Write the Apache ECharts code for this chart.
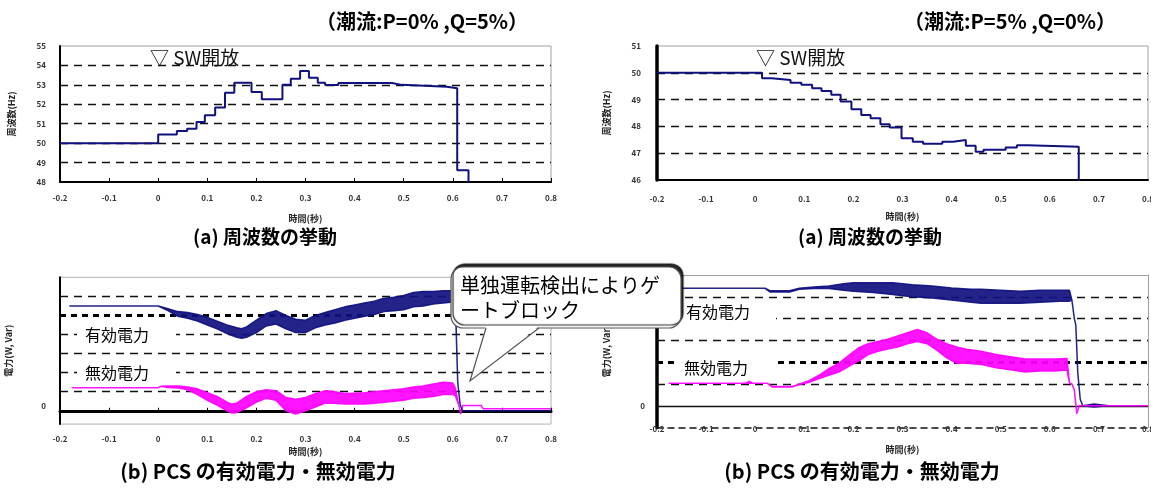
<!DOCTYPE html>
<html>
<head>
<meta charset="utf-8">
<script src="https://cdn.jsdelivr.net/npm/echarts@6/dist/echarts.min.js"></script>
<style>
  html, body { margin: 0; padding: 0; background: #fff; }
  #c { width: 1151px; height: 488px; }
</style>
</head>
<body>
<div id="c"></div>
<script>
// ---- time axis (s) ----
const timeMin = -0.2, timeMax = 0.8, timeStep = 0.1;

// ---- (a) frequency, case P=0%, Q=5%  (step data: value holds until next time) ----
const freqA_t = [-0.2, 0.0, 0.038, 0.059, 0.078, 0.095, 0.116, 0.136, 0.155, 0.19, 0.211, 0.253, 0.27, 0.289, 0.307, 0.325, 0.34, 0.367, 0.476, 0.496, 0.588, 0.609, 0.632, 0.65];
const freqA_f = [50.0, 50.45, 50.63, 50.74, 51.09, 51.43, 51.83, 52.6, 53.11, 52.63, 52.26, 53.01, 53.32, 53.71, 53.37, 53.11, 52.99, 53.1, 53.0, 52.9, 52.82, 48.6, 47.5, 47.5];
const freqA_ticks = [48, 55];

// ---- (a) frequency, case P=5%, Q=0% ----
const freqB_t = [-0.2, 0.014, 0.033, 0.072, 0.094, 0.116, 0.135, 0.155, 0.174, 0.196, 0.216, 0.235, 0.255, 0.274, 0.298, 0.321, 0.342, 0.381, 0.403, 0.429, 0.449, 0.465, 0.51, 0.533, 0.554, 0.659, 0.68];
const freqB_f = [50.0, 49.8, 49.73, 49.63, 49.55, 49.42, 49.32, 49.18, 48.93, 48.64, 48.43, 48.3, 48.08, 47.96, 47.56, 47.43, 47.35, 47.43, 47.49, 47.28, 47.05, 47.13, 47.21, 47.3, 47.24, 45.5, 45.5];
const freqB_ticks = [46, 51];

// ---- (b) PCS power, case P=0%, Q=5%  (upper / lower envelope of the ripple, grid units) ----
const pA_t  = [-0.18, 0.0, 0.02, 0.04, 0.06, 0.08, 0.10, 0.12, 0.14, 0.16, 0.17, 0.18, 0.20, 0.22, 0.24, 0.26, 0.28, 0.30, 0.32, 0.34, 0.36, 0.38, 0.40, 0.42, 0.44, 0.46, 0.48, 0.50, 0.52, 0.54, 0.56, 0.58, 0.60, 0.605, 0.61, 0.615, 0.62, 0.8];
const pA_hi = [5.49, 5.49, 5.35, 5.2, 5.15, 5.05, 4.9, 4.7, 4.5, 4.35, 4.3, 4.4, 4.75, 5.1, 5.25, 5.0, 4.8, 4.75, 5.0, 5.15, 5.3, 5.45, 5.55, 5.65, 5.75, 5.9, 5.95, 6.05, 6.2, 6.25, 6.25, 6.3, 6.3, 6.0, 1.5, 0.3, 0, 0];
const pA_lo = [5.49, 5.49, 5.25, 4.95, 4.85, 4.7, 4.5, 4.3, 4.05, 3.85, 3.8, 3.85, 4.1, 4.45, 4.55, 4.3, 4.1, 4.1, 4.35, 4.5, 4.6, 4.75, 4.85, 4.95, 5.05, 5.2, 5.25, 5.3, 5.45, 5.5, 5.6, 5.65, 5.7, 5.8, 1.5, 0.3, 0, 0];

const qA_t  = [-0.175, 0.0, 0.005, 0.02, 0.04, 0.06, 0.08, 0.10, 0.12, 0.14, 0.15, 0.16, 0.18, 0.20, 0.22, 0.24, 0.26, 0.28, 0.30, 0.32, 0.34, 0.36, 0.38, 0.40, 0.42, 0.44, 0.46, 0.48, 0.50, 0.52, 0.54, 0.56, 0.58, 0.60, 0.605, 0.612, 0.616, 0.62, 0.658, 0.662, 0.8];
const qA_hi = [1.21, 1.21, 1.28, 1.3, 1.3, 1.25, 1.15, 0.95, 0.75, 0.45, 0.35, 0.4, 0.75, 1.0, 1.1, 1.05, 0.7, 0.6, 0.7, 0.9, 1.05, 1.0, 0.9, 0.92, 0.95, 1.0, 1.05, 1.1, 1.15, 1.25, 1.3, 1.4, 1.5, 1.45, 1.2, 0.3, -0.15, 0.28, 0.28, 0.1, 0.1];
const qA_lo = [1.21, 1.21, 1.28, 1.22, 1.2, 1.1, 0.85, 0.55, 0.3, 0.0, -0.12, -0.1, 0.15, 0.45, 0.65, 0.55, 0.0, -0.17, 0.0, 0.2, 0.4, 0.4, 0.35, 0.35, 0.35, 0.4, 0.45, 0.5, 0.55, 0.65, 0.7, 0.75, 0.85, 0.85, 0.8, 0.3, -0.15, 0.28, 0.28, 0.1, 0.1];
const gridA_lines = [1, 2, 3, 4, 5, 6];
const gridA_bold = 5;

// ---- (b) PCS power, case P=5%, Q=0% ----
const pB_t  = [-0.2, 0.02, 0.03, 0.07, 0.09, 0.12, 0.15, 0.18, 0.20, 0.24, 0.28, 0.30, 0.32, 0.36, 0.40, 0.44, 0.46, 0.50, 0.54, 0.58, 0.62, 0.64, 0.645, 0.65, 0.653, 0.657, 0.662, 0.667, 0.69, 0.72];
const pB_hi = [5.39, 5.39, 5.28, 5.28, 5.39, 5.45, 5.5, 5.6, 5.65, 5.65, 5.65, 5.6, 5.55, 5.5, 5.4, 5.35, 5.35, 5.3, 5.25, 5.3, 5.3, 5.3, 4.85, 4.0, 3.7, 1.5, 0.3, 0.0, 0.08, 0.0];
const pB_lo = [5.39, 5.39, 5.22, 5.22, 5.35, 5.38, 5.38, 5.3, 5.25, 5.2, 5.1, 5.05, 5.0, 4.95, 4.85, 4.75, 4.7, 4.7, 4.7, 4.75, 4.8, 4.8, 4.85, 4.0, 3.7, 1.5, 0.3, 0.0, -0.05, 0.0];

const qB_t  = [-0.175, -0.02, -0.012, -0.004, 0.025, 0.035, 0.075, 0.09, 0.11, 0.13, 0.15, 0.17, 0.19, 0.21, 0.23, 0.25, 0.27, 0.29, 0.31, 0.33, 0.35, 0.37, 0.39, 0.41, 0.43, 0.46, 0.49, 0.52, 0.55, 0.58, 0.61, 0.635, 0.64, 0.645, 0.65, 0.655, 0.66, 0.8];
const qB_hi = [1.03, 1.03, 1.12, 1.03, 1.03, 0.88, 0.88, 1.0, 1.15, 1.4, 1.7, 1.95, 2.3, 2.65, 2.85, 2.95, 3.05, 3.2, 3.35, 3.5, 3.35, 3.05, 2.85, 2.7, 2.6, 2.5, 2.35, 2.25, 2.15, 2.15, 2.15, 2.17, 1.05, 1.0, 0.72, -0.35, 0, 0];
const qB_lo = [1.03, 1.03, 1.03, 1.03, 1.03, 0.86, 0.86, 0.98, 1.08, 1.25, 1.4, 1.55, 1.8, 2.05, 2.35, 2.5, 2.6, 2.7, 2.85, 2.95, 2.85, 2.55, 2.2, 1.95, 1.95, 1.9, 1.75, 1.65, 1.55, 1.6, 1.6, 1.64, 1.05, 1.0, 0.72, -0.35, 0, 0];
const gridB_lines = [1, 2, 3, 4, 5];
const gridB_bold = 2;

// ---- texts ----
const titleA = '（潮流:P=0% ,Q=5%）';
const titleB = '（潮流:P=5% ,Q=0%）';
const capFreq = '(a) 周波数の挙動';
const capPower = '(b) PCS の有効電力・無効電力';
const eventLabel = '▽ SW開放';
const nameP = '有効電力', nameQ = '無効電力';
const calloutLines = ['単独運転検出によりゲ', 'ートブロック'];

const NAVY = '#10107f', MAGENTA = '#ff00ff';
const JP = '"Noto Sans CJK JP", "Noto Sans", sans-serif';

const zip = (t, v) => t.map((x, i) => [x, v[i]]);

// ripple band: closed outline along the upper envelope and back along the lower one
function band(t, hi, lo, color, xi, yi, z) {
  return {
    type: 'custom', xAxisIndex: xi, yAxisIndex: yi, z: z, silent: true, clip: true,
    animation: false, data: [[t[0], lo[0]]],
    renderItem: function (params, api) {
      const up = t.map((x, i) => api.coord([x, hi[i]]));
      const dn = t.map((x, i) => api.coord([x, lo[i]])).reverse();
      return {
        type: 'polygon',
        shape: { points: up.concat(dn) },
        style: { fill: color, opacity: 0.92, stroke: color, lineWidth: 1.5, lineJoin: 'round' }
      };
    }
  };
}

function gridMarks(values, bold, withZero) {
  const data = values.map(v => ({
    yAxis: v,
    lineStyle: v === bold
      ? { color: '#000', width: 3, type: [6, 5] }
      : { color: '#111', width: 1.4, type: [8, 6] }
  }));
  if (withZero) data.push({ yAxis: 0, lineStyle: { color: '#111', width: 1.4, type: 'solid' } });
  return { silent: true, symbol: 'none', label: { show: false }, animation: false, z: 1, data: data };
}

const tickLabel = { fontSize: 8, fontWeight: 'bold', color: '#333', fontFamily: JP };
const axisName = { fontSize: 9, fontWeight: 'bold', color: '#222', fontFamily: JP };
const dashGrid = { show: true, showMinLine: false, showMaxLine: false, lineStyle: { color: '#111', width: 1.4, type: [8, 6] } };

function xAxisBase(gi, extra) {
  return Object.assign({
    type: 'value', gridIndex: gi, min: timeMin, max: timeMax, interval: timeStep,
    name: '時間(秒)', nameLocation: 'middle', nameTextStyle: axisName, nameMoveOverlap: false,
    axisLine: { onZero: false, lineStyle: { color: '#000', width: 2 } },
    axisTick: { show: false },
    axisLabel: Object.assign({}, tickLabel),
    splitLine: { show: false }
  }, extra);
}

const zeroOnly = v => (Math.abs(v) < 1e-6 ? '0' : '');

const option = {
  backgroundColor: '#fff',
  animation: false,
  textStyle: { fontFamily: JP },
  grid: [
    { left: 60, top: 46, width: 491, height: 136, show: true, borderColor: '#a0a0a0', borderWidth: 1, containLabel: false, outerBoundsMode: 'none' },
    { left: 657, top: 46, width: 491, height: 134, show: true, borderColor: '#a0a0a0', borderWidth: 1, containLabel: false, outerBoundsMode: 'none' },
    { left: 60, top: 277.3, width: 491, height: 146.8, show: true, borderColor: '#b0b0b0', borderWidth: 1, containLabel: false, outerBoundsMode: 'none' },
    { left: 657, top: 275, width: 491, height: 152.6, show: false, containLabel: false, outerBoundsMode: 'none' }
  ],
  xAxis: [
    xAxisBase(0, { nameGap: 32, axisTick: { show: true, inside: true, length: 4, lineStyle: { color: '#000', width: 1 } }, axisLabel: Object.assign({}, tickLabel, { margin: 12 }) }),
    xAxisBase(1, { nameGap: 32, axisLabel: Object.assign({}, tickLabel, { margin: 15 }) }),
    xAxisBase(2, {
      nameGap: 23,
      axisLine: { onZero: true, lineStyle: { color: '#000', width: 3 } },
      axisTick: { show: true, inside: true, length: 3, lineStyle: { color: '#000', width: 1 } },
      axisLabel: Object.assign({}, tickLabel, { margin: 11 })
    }),
    xAxisBase(3, {
      nameGap: 17,
      axisLine: { onZero: false, lineStyle: { color: '#111', width: 1.5, type: [6, 5] } },
      axisLabel: Object.assign({}, tickLabel, { margin: -3 })
    }),
    { type: 'value', gridIndex: 3, position: 'top', min: timeMin, max: timeMax, interval: timeStep,
      axisLine: { onZero: false, lineStyle: { color: '#a0a0a0', width: 1 } },
      axisTick: { show: false }, axisLabel: { show: false }, splitLine: { show: false } }
  ],
  yAxis: [
    { type: 'value', gridIndex: 0, min: freqA_ticks[0], max: freqA_ticks[1], interval: 1,
      name: '周波数(Hz)', nameLocation: 'middle', nameRotate: 90, nameGap: 44, nameTextStyle: axisName, nameMoveOverlap: false,
      axisLine: { show: true, onZero: false, lineStyle: { color: '#000', width: 2 } }, axisTick: { show: false },
      axisLabel: Object.assign({}, tickLabel, { margin: 14 }), splitLine: dashGrid },
    { type: 'value', gridIndex: 1, min: freqB_ticks[0], max: freqB_ticks[1], interval: 1,
      name: '周波数(Hz)', nameLocation: 'middle', nameRotate: 90, nameGap: 46, nameTextStyle: axisName, nameMoveOverlap: false,
      axisLine: { show: true, onZero: false, lineStyle: { color: '#000', width: 3.5 } }, axisTick: { show: false },
      axisLabel: Object.assign({}, tickLabel, { margin: 16 }), splitLine: dashGrid },
    { type: 'value', gridIndex: 2, min: -0.7, max: 7, interval: 0.7,
      name: '電力(W, Var)', nameLocation: 'middle', nameRotate: 90, nameGap: 47, nameTextStyle: axisName, nameMoveOverlap: false,
      axisLine: { show: true, onZero: false, lineStyle: { color: '#000', width: 2 } }, axisTick: { show: false },
      axisLabel: Object.assign({}, tickLabel, { margin: 14, formatter: zeroOnly, verticalAlign: 'bottom', padding: [0, 0, 1, 0] }),
      splitLine: { show: false } },
    { type: 'value', gridIndex: 3, position: 'left', min: -1, max: 6, interval: 1,
      name: '電力(W, Var)', nameLocation: 'middle', nameRotate: 90, nameGap: 46, nameTextStyle: axisName, nameMoveOverlap: false,
      axisLine: { show: true, onZero: false, lineStyle: { color: '#000', width: 3.5 } }, axisTick: { show: false },
      axisLabel: Object.assign({}, tickLabel, { margin: 12, formatter: zeroOnly }),
      splitLine: { show: false } },
    { type: 'value', gridIndex: 3, position: 'right', min: -1, max: 6, interval: 1,
      axisLine: { show: true, onZero: false, lineStyle: { color: '#a0a0a0', width: 1 } },
      axisTick: { show: false }, axisLabel: { show: false }, splitLine: { show: false } }
  ],
  series: [
    { type: 'line', xAxisIndex: 0, yAxisIndex: 0, step: 'end', symbol: 'none', silent: true, z: 3,
      data: zip(freqA_t, freqA_f), lineStyle: { color: NAVY, width: 2 } },
    { type: 'line', xAxisIndex: 1, yAxisIndex: 1, step: 'end', symbol: 'none', silent: true, z: 3,
      data: zip(freqB_t, freqB_f), lineStyle: { color: NAVY, width: 2 } },
    // grid lines of the power panels
    { type: 'line', xAxisIndex: 2, yAxisIndex: 2, data: [], markLine: gridMarks(gridA_lines, gridA_bold, false) },
    { type: 'line', xAxisIndex: 3, yAxisIndex: 3, data: [], markLine: gridMarks(gridB_lines, gridB_bold, true) },
    band(qA_t, qA_hi, qA_lo, MAGENTA, 2, 2, 3),
    band(pA_t, pA_hi, pA_lo, NAVY, 2, 2, 4),
    band(pB_t, pB_hi, pB_lo, NAVY, 3, 3, 3),
    band(qB_t, qB_hi, qB_lo, MAGENTA, 3, 3, 4)
  ],
  graphic: { elements: [
    { type: 'text', style: { text: titleA, x: 422, y: 21, align: 'center', verticalAlign: 'middle', font: 'bold 20px ' + JP, fill: '#000' } },
    { type: 'text', style: { text: titleB, x: 1010, y: 21, align: 'center', verticalAlign: 'middle', font: 'bold 20px ' + JP, fill: '#000' } },
    { type: 'text', style: { text: capFreq, x: 265, y: 237, align: 'center', verticalAlign: 'middle', font: 'bold 19px ' + JP, fill: '#000' } },
    { type: 'text', style: { text: capFreq, x: 870, y: 237, align: 'center', verticalAlign: 'middle', font: 'bold 19px ' + JP, fill: '#000' } },
    { type: 'text', style: { text: capPower, x: 258, y: 471, align: 'center', verticalAlign: 'middle', font: 'bold 20px ' + JP, fill: '#000' } },
    { type: 'text', style: { text: capPower, x: 862, y: 471, align: 'center', verticalAlign: 'middle', font: 'bold 20px ' + JP, fill: '#000' } },
    { type: 'text', style: { text: eventLabel, x: 150, y: 58, verticalAlign: 'middle', font: '19px ' + JP, fill: '#111', backgroundColor: '#fff', padding: [0, 2, 0, 0] } },
    { type: 'text', style: { text: eventLabel, x: 756, y: 58, verticalAlign: 'middle', font: '19px ' + JP, fill: '#111', backgroundColor: '#fff', padding: [0, 2, 0, 0] } },
    // series names written inside the power panels
    { type: 'text', z: 50, style: { text: nameP, x: 77, y: 335, verticalAlign: 'middle', font: '16px ' + JP, fill: '#000', backgroundColor: '#fff', padding: [4, 27, 4, 8] } },
    { type: 'text', z: 50, style: { text: nameQ, x: 77, y: 373, verticalAlign: 'middle', font: '16px ' + JP, fill: '#000', backgroundColor: '#fff', padding: [4, 27, 4, 8] } },
    { type: 'text', z: 50, style: { text: nameP, x: 679, y: 312, verticalAlign: 'middle', font: '16px ' + JP, fill: '#000', backgroundColor: '#fff', padding: [4, 26, 4, 7] } },
    { type: 'text', z: 50, style: { text: nameQ, x: 678, y: 368, verticalAlign: 'middle', font: '16px ' + JP, fill: '#000', backgroundColor: '#fff', padding: [4, 26, 4, 6] } },
    // callout: gate block on islanding detection
    { type: 'rect', z: 60, shape: { x: 451, y: 267, width: 230, height: 61, r: 12 },
      style: { fill: '#fff', stroke: '#555', lineWidth: 1.2, shadowColor: 'rgba(0,0,0,0.85)', shadowOffsetX: 2, shadowOffsetY: -3, shadowBlur: 1 } },
    { type: 'polygon', z: 61, shape: { points: [[486, 326], [539, 326], [470, 381]] }, style: { fill: '#fff', stroke: null } },
    { type: 'polyline', z: 62, shape: { points: [[486, 328], [470, 381], [539, 328]] }, style: { fill: null, stroke: '#555', lineWidth: 1.2 } },
    { type: 'text', z: 63, style: { text: calloutLines[0], x: 460, y: 285, verticalAlign: 'middle', font: '20px ' + JP, fill: '#000' } },
    { type: 'text', z: 63, style: { text: calloutLines[1], x: 460, y: 310, verticalAlign: 'middle', font: '20px ' + JP, fill: '#000' } }
  ] }
};

const chart = echarts.init(document.getElementById('c'), null, { renderer: 'canvas' });
chart.setOption(option);
</script>
</body>
</html>
